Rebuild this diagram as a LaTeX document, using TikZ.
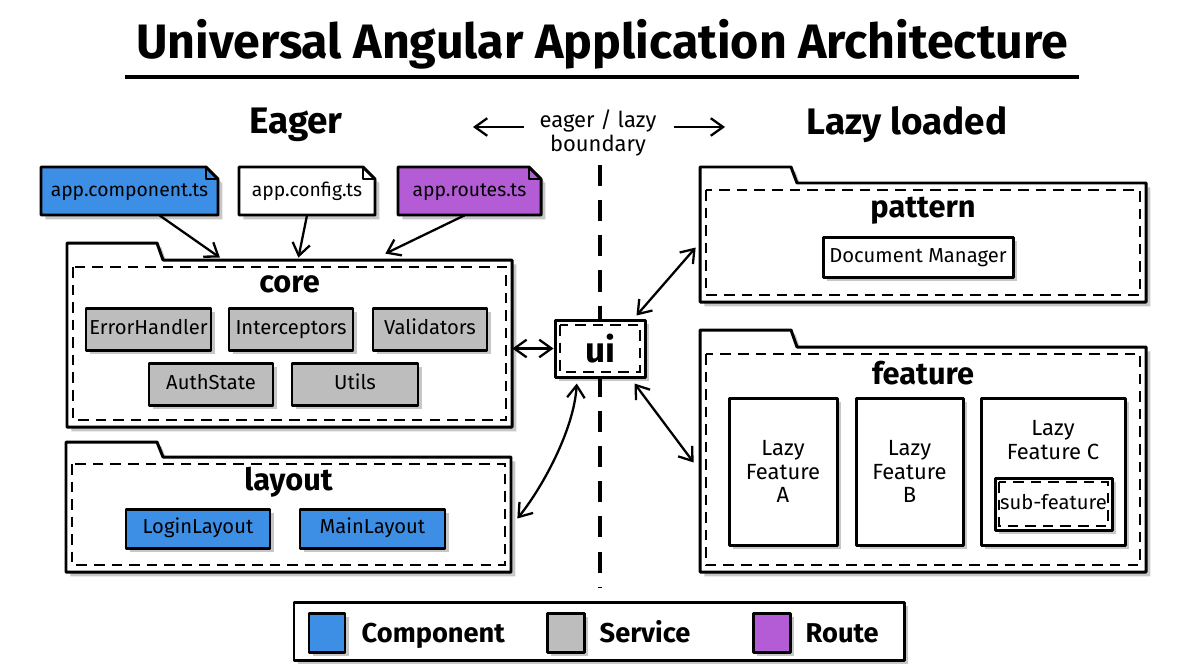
\documentclass[tikz,border=0pt]{standalone}
\usepackage{fontspec}
\setmainfont{Fira Sans}
\usetikzlibrary{arrows.meta,fit,shadows,calc}
\definecolor{compblue}{HTML}{3D8FE6}
\definecolor{svcgrey}{HTML}{BDBDBD}
\definecolor{routepurple}{HTML}{B35CD6}
\newcommand\filebox[7]{%
 \fill[#6, sh] (#2,#3) -- ({#4-12},#3) -- (#4,{#3+12}) -- (#4,#5) -- (#2,#5) -- cycle;
 \draw[outline] (#2,#3) -- ({#4-12},#3) -- (#4,{#3+12}) -- (#4,#5) -- (#2,#5) -- cycle;
 \draw[line width=0.9pt, line join=round] ({#4-12},#3) -- ({#4-12},{#3+12}) -- (#4,{#3+12});
 \node[bx={#2}{#3}{#4}{#5}, inner sep=0pt, font=\filefont, text height=1.6ex, text depth=0.45ex] (#1) {#7};}
\newcommand\folderbox[7]{%
 \filldraw[outline, fill=white, sh] (#2,#7) -- (#2,#3) -- ({#4-6},#3) -- (#4,#5) -- (#6,#5) -- (#6,#7) -- cycle;
 \draw[inner dash] ({#2+6},{#5+7}) rectangle ({#6-6},{#7-7});
 \node[bx={#2}{#5}{#6}{#7}, inner sep=0pt] (#1) {};}
\newcommand\filefont{\fontsize{11}{13}\selectfont}
\begin{document}
\begin{tikzpicture}[x=0.02cm,y=-0.02cm,
  bx/.style n args={4}{at={({(#1+#3)/2},{(#2+#4)/2})},minimum width={(#3-#1)*0.02cm},minimum height={(#4-#2)*0.02cm}},
  sh/.style={drop shadow={shadow xshift=2.5pt,shadow yshift=-2.5pt,opacity=0.22,fill=black}},
  outline/.style={draw=black,line width=1.7pt,line join=round},
  inner dash/.style={draw=black,line width=1.1pt,dash pattern=on 6pt off 4pt},
  boxed/.style={outline,inner sep=0pt,sh},
  oneline/.style={text height=1.6ex,text depth=0.45ex},
  svc/.style={boxed,oneline,fill=svcgrey,font=\fontsize{11.5}{13}\selectfont},
  comp/.style={boxed,oneline,fill=compblue,font=\fontsize{11.5}{13}\selectfont},
  plain/.style={boxed,oneline,fill=white,font=\fontsize{11.5}{13}\selectfont},
  lazy/.style={boxed,fill=white,align=center,font=\fontsize{12.5}{13.2}\selectfont},
  grouplabel/.style={font=\fontsize{17.5}{20}\selectfont\bfseries},
  head/.style={font=\fontsize{21}{24}\selectfont\bfseries},
  legtext/.style={font=\fontsize{15.5}{18}\selectfont\bfseries,anchor=base west},
  arr/.style={line width=1.3pt,-{Straight Barb[length=7pt,width=10pt]}},
  darr/.style={line width=1.3pt,{Straight Barb[length=7pt,width=10pt]}-{Straight Barb[length=7pt,width=10pt]}}
]
\useasboundingbox (0,0) rectangle (1200,670);
\fill[white] (0,0) rectangle (1200,670);

% title
\node[font=\fontsize{27.5}{30}\selectfont\bfseries] (title) at (602,44) {Universal Angular Application Architecture};
\coordinate (ul1) at (125,77);
\coordinate (ul2) at (1079,77);
\draw[line width=2.6pt] (ul1) -- (ul2);

% headings
\node[head] (eager) at (296,125) {Eager};
\node[head] (lazyh) at (907,125) {Lazy loaded};
\node[align=center,font=\fontsize{12.5}{13.5}\selectfont] (bnd) at (598,133) {eager / lazy\\boundary};
\coordinate (la1) at (524,127);
\coordinate (la2) at (473,127);
\coordinate (ra1) at (674,127);
\coordinate (ra2) at (725,127);
\draw[arr] (la1) -- (la2);
\draw[arr] (ra1) -- (ra2);

% boundary line
\coordinate (b1) at (600,165);
\coordinate (b2) at (600,588);
\draw[line width=2pt,dash pattern=on 12pt off 8pt] (b1) -- (b2);

% files
\filebox{appcomp}{41}{167}{218}{215}{compblue}{app.component.ts}
\filebox{appconf}{239}{167}{375}{215}{white}{app.config.ts}
\filebox{approutes}{398}{167}{541}{215}{routepurple}{app.routes.ts}

% folders
\folderbox{core}{67}{243}{163}{260}{512}{427}
\folderbox{layout}{66}{442}{163}{457}{511}{572}
\folderbox{pattern}{700}{167}{797}{183}{1146}{302}
\folderbox{feature}{700}{330}{797}{347}{1146}{572}

\node[grouplabel] (corel) at ($(core.north)+(0,25)$) {core};
\node[grouplabel] (layoutl) at ($(layout.north)+(0,26)$) {layout};
\node[grouplabel] (patternl) at ($(pattern.north)+(0,28)$) {pattern};
\node[grouplabel] (featurel) at ($(feature.north)+(0,26)$) {feature};

% core services
\node[svc,bx={86}{308}{211}{350}] (eh) {ErrorHandler};
\node[svc,bx={229}{308}{353}{350}] (ic) {Interceptors};
\node[svc,bx={373}{308}{487}{350}] (val) {Validators};
\node[svc,bx={149}{363}{273}{405}] (auth) {AuthState};
\node[svc,bx={292}{363}{418}{405}] (utils) {Utils};

% layout components
\node[comp,bx={126}{509}{270}{548}] (login) {LoginLayout};
\node[comp,bx={300}{509}{445}{548}] (mainl) {MainLayout};

% pattern
\node[plain,bx={823}{237}{1013}{277}] (docm) {Document Manager};

% feature
\node[lazy,bx={729}{398}{837}{545}] (lfa) {Lazy\\Feature\\A};
\node[lazy,bx={856}{398}{963}{545}] (lfb) {Lazy\\Feature\\B};
\node[lazy,bx={981}{398}{1125}{545}] (lfc) {};
\node[align=center,font=\fontsize{12.5}{13.2}\selectfont] (lfct) at (1053,440) {Lazy\\Feature C};
\node[plain,bx={995}{478}{1112}{530}] (subf) {};
\draw[inner dash] (999,482) rectangle (1108,526);
\node[oneline,font=\fontsize{11.5}{13}\selectfont] (subft) at (subf.center) {sub-feature};

% ui
\node[boxed,fill=white,bx={555}{320}{645}{377}] (ui) {};
\draw[inner dash] (560,325) rectangle (640,372);
\node[font=\fontsize{20}{22}\selectfont\bfseries] (uit) at (ui.center) {ui};

% connectors
\draw[arr] ($(appcomp.south)+(30,0)$) -- ($(core.north west)!0.344!(core.north east)+(0,-2)$);
\draw[arr] (appconf.south) -- ($(core.north west)!0.52!(core.north east)+(0,-2)$);
\draw[arr] ($(approutes.south)+(-5,0)$) -- ($(core.north west)!0.715!(core.north east)+(0,-6)$);
\draw[darr] (ui.west -| core.east) -- (ui.west);
\draw[darr] ($(layout.east)+(6,4)$) .. controls (542,488) and (574,430) .. ($(ui.south west)!0.25!(ui.south east)+(0,5)$);
\draw[darr] ($(ui.north east)+(-10,-3)$) -- ($(pattern.west)+(-4,5)$);
\draw[darr] ($(ui.south east)+(-12,5)$) -- ($(feature.west)+(-6,3)$);

% legend
\node[boxed,fill=white,bx={294}{602}{904}{660}] (legend) {};
\node[boxed,fill=compblue,bx={309}{613}{345}{652}] (lc) {};
\node[boxed,fill=svcgrey,bx={547}{613}{584}{652}] (ls) {};
\node[boxed,fill=routepurple,bx={753}{613}{790}{652}] (lr) {};
\node[legtext] (lct) at ($(lc.east)+(9,10)$) {Component};
\node[legtext] (lst) at ($(ls.east)+(8,10)$) {Service};
\node[legtext] (lrt) at ($(lr.east)+(8,10)$) {Route};
\end{tikzpicture}
\end{document}
